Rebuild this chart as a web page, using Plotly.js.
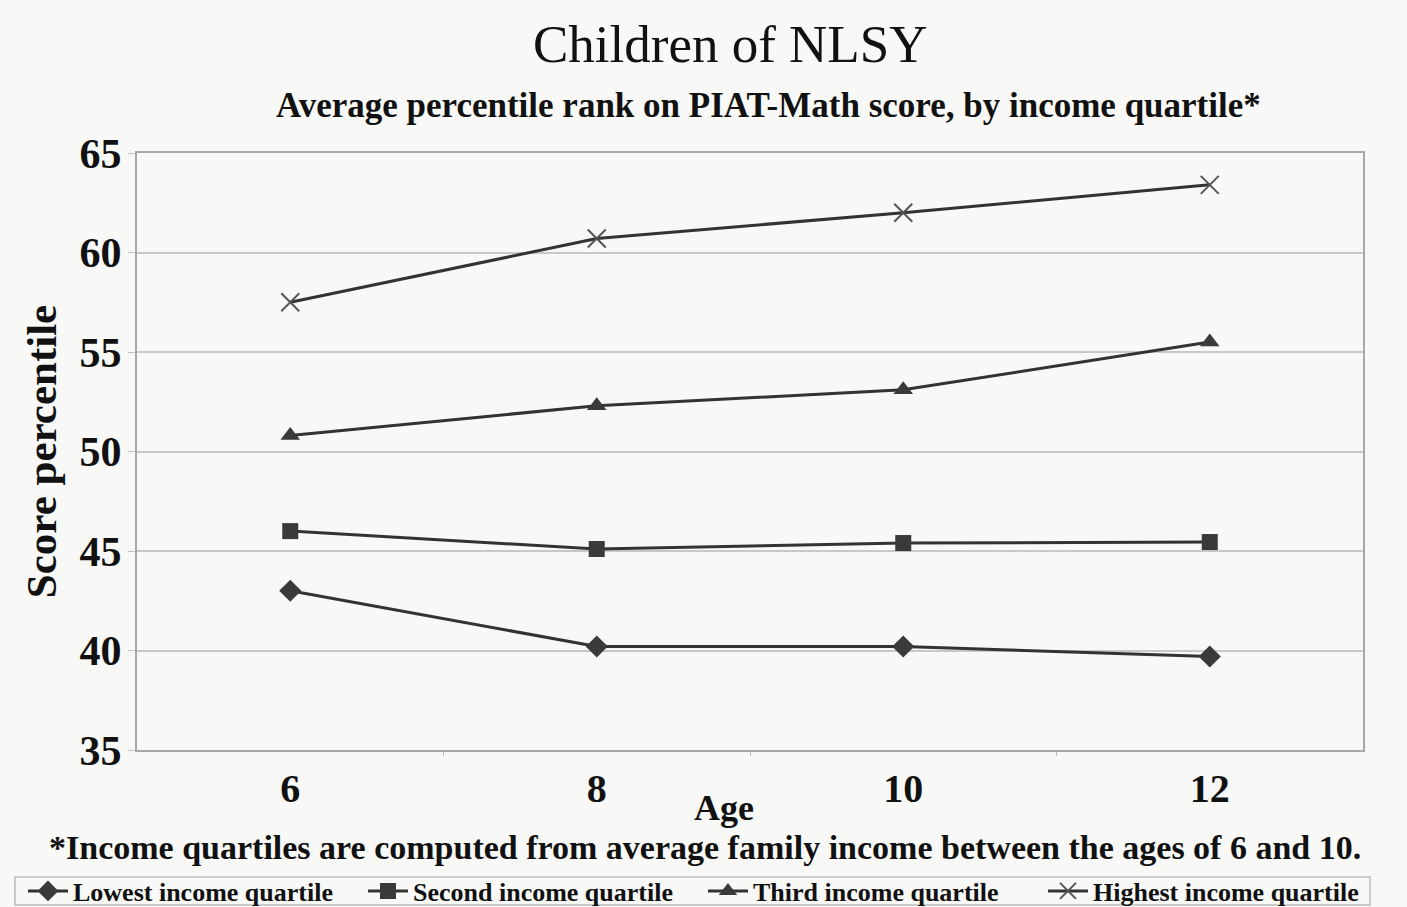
<!DOCTYPE html>
<html>
<head>
<meta charset="utf-8">
<script src="https://cdn.plot.ly/plotly-3.0.1.min.js"></script>
<style>
  html, body { margin: 0; padding: 0; background: #f8f8f6; }
  #chart { width: 1407px; height: 907px; }
</style>
</head>
<body>
<div id="chart"></div>
<script>
const ages = [6, 8, 10, 12];
const seriesNames = ["Lowest income quartile", "Second income quartile", "Third income quartile", "Highest income quartile"];
const lowest = [43.0, 40.2, 40.2, 39.7];
const second = [46.0, 45.1, 45.4, 45.45];
const third = [50.8, 52.3, 53.1, 55.5];
const highest = [57.5, 60.7, 62.0, 63.4];
const yTicks = [35, 40, 45, 50, 55, 60, 65];

const serif = "Liberation Serif, Times New Roman, serif";
const lineColor = "#333333";

const symbols = ["diamond", "square", "triangle-up", "x-thin-open"];
const sizes = [17, 16, 17, 18];
const data = [lowest, second, third, highest].map((vals, i) => ({
  type: "scatter",
  mode: "lines+markers",
  name: seriesNames[i],
  x: ages,
  y: vals,
  line: { color: lineColor, width: 3 },
  marker: {
    symbol: symbols[i],
    size: sizes[i],
    color: i === 3 ? "#555555" : "#3a3a3a",
    line: { color: i === 3 ? "#555555" : "#3a3a3a", width: i === 3 ? 2 : 0 }
  }
}));

const layout = {
  width: 1407,
  height: 907,
  paper_bgcolor: "#f8f8f6",
  plot_bgcolor: "#f8f8f6",
  margin: { l: 137, r: 44, t: 153, b: 157, autoexpand: false },
  font: { family: serif, color: "#111111" },
  title: {
    text: "Children of NLSY",
    font: { family: serif, size: 53, color: "#111111" },
    x: 0.519, xanchor: "center",
    y: 0.952, yanchor: "middle", yref: "container"
  },
  xaxis: {
    range: [5, 13],
    tickvals: ages,
    ticktext: ages.map(String),
    tickfont: { family: serif, size: 40, color: "#111111", weight: "bold" },
    ticks: "",
    ticklabelstandoff: 2,
    showgrid: false,
    zeroline: false,
    showline: true,
    linecolor: "#a8a8a8",
    linewidth: 2,
    mirror: true,
    minor: { tickvals: [7, 9, 11], ticks: "outside", ticklen: 4, tickcolor: "#bbbbbb", tickwidth: 1 }
  },
  yaxis: {
    range: [35, 65],
    tickvals: yTicks,
    tickfont: { family: serif, size: 42, color: "#111111", weight: "bold" },
    ticks: "outside",
    ticklen: 7,
    tickcolor: "#c4c4c4",
    ticklabelstandoff: -2,
    showgrid: true,
    gridcolor: "#c8c8c8",
    gridwidth: 1.5,
    zeroline: false,
    showline: true,
    linecolor: "#a8a8a8",
    linewidth: 2,
    mirror: true,
    title: {
      text: "Score percentile",
      font: { family: serif, size: 43, color: "#111111", weight: "bold" },
      standoff: 10
    }
  },
  showlegend: true,
  legend: {
    orientation: "h",
    x: -0.093, xanchor: "left",
    y: -0.2362, yanchor: "middle",
    bgcolor: "rgba(0,0,0,0)",
    borderwidth: 0,
    font: { family: serif, size: 26, color: "#111111", weight: "bold" },
    entrywidth: 285,
    entrywidthmode: "pixels",
    itemwidth: 40,
    tracegroupgap: 0
  },
  shapes: [
    {
      type: "rect", xref: "paper", yref: "paper",
      x0: -0.0995, x1: 1.0057, y0: -0.2596, y1: -0.2127,
      line: { color: "#bdbdbd", width: 1.5 },
      fillcolor: "rgba(0,0,0,0)",
      layer: "below"
    }
  ],
  annotations: [
    {
      text: "Average percentile rank on PIAT-Math score, by income quartile*",
      xref: "paper", yref: "paper",
      x: 0.515, y: 1.080, xanchor: "center", yanchor: "middle",
      showarrow: false,
      font: { family: serif, size: 35, color: "#111111", weight: "bold" }
    },
    {
      text: "Age",
      xref: "paper", yref: "paper",
      x: 0.479, y: -0.097, xanchor: "center", yanchor: "middle",
      showarrow: false,
      font: { family: serif, size: 36, color: "#111111", weight: "bold" }
    },
    {
      text: "*Income quartiles are computed from average family income between the ages of 6 and 10.",
      xref: "paper", yref: "paper",
      x: 0.463, y: -0.1625, xanchor: "center", yanchor: "middle",
      showarrow: false,
      font: { family: serif, size: 34, color: "#111111", weight: "bold" }
    }
  ]
};

Plotly.newPlot("chart", data, layout, { displayModeBar: false, responsive: false });
</script>
</body>
</html>
